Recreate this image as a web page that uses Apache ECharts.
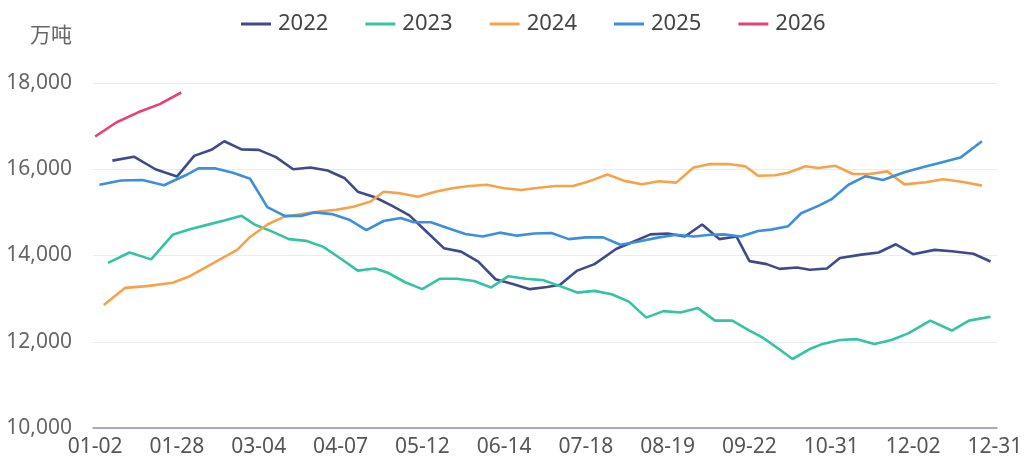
<!DOCTYPE html>
<html>
<head>
<meta charset="utf-8">
<script src="https://cdn.jsdelivr.net/npm/echarts@6/dist/echarts.min.js"></script>
<style>html,body{margin:0;padding:0;background:#fff}#c{width:1033px;height:470px}</style>
</head>
<body>
<div id="c"></div>
<script>
// x-axis tick labels (shown every STEP categories)
const tickLabels = ['01-02','01-28','03-04','04-07','05-12','06-14','07-18','08-19','09-22','10-31','12-02','12-31'];
const STEP = 19;
const years = ['2022','2023','2024','2025','2026'];
// first weekly observation date of each year
const firstDates = ['2022-01-07','2023-01-06','2024-01-05','2025-01-03','2026-01-02'];
// weekly values, 万吨
const v2022 = [16200,16290,16000,15830,16310,16450,16650,16460,16450,16280,16000,16040,15970,15790,
  15480,15350,15150,14930,14550,14170,14090,13860,13450,13340,13220,13270,13320,13650,13800,
  14150,14320,14490,14510,14440,14720,14380,14440,13870,13800,13690,13720,13670,13700,13940,
  14020,14070,14260,14030,14130,14100,14040,13860];
const v2023 = [13830,14070,13910,14480,14610,14710,14810,14920,14720,14560,
  14380,14340,14200,13930,13650,13700,13600,13380,13220,13460,
  13460,13410,13260,13520,13460,13430,13290,13140,13180,13100,
  12930,12560,12710,12680,12780,12490,12490,12260,12100,11820,
  11600,11830,11950,12040,12060,11950,12040,12200,12490,12260,
  12490,12580];
const v2024 = [12850,13250,13290,13370,13520,13740,13910,14130,14430,14720,
  14900,14960,15020,15060,15130,15250,15480,15440,15360,15480,
  15560,15610,15640,15560,15520,15570,15610,15610,15730,15880,
  15730,15650,15720,15690,16040,16120,16120,16070,15850,15860,
  15920,16070,16030,16080,15890,15890,15950,15650,15700,15770,
  15700,15620];
const v2025 = [15640,15740,15750,15630,15860,16020,16020,15920,15780,15120,
  14920,14920,15000,14960,14830,14590,14800,14870,14770,14770,
  14630,14500,14440,14530,14460,14510,14520,14380,14420,14420,
  14250,14320,14420,14480,14440,14480,14490,14440,14570,14600,
  14680,14980,15150,15300,15640,15840,15750,15930,16040,16170,
  16270,16650];
const v2026 = [16760,17090,17320,17510,17780];
const values = [v2022, v2023, v2024, v2025, v2026];
const colors = ['#3f4a8a','#34c3a5','#f7a24b','#3d8fdc','#e2417c'];

// ---- build category list from tick labels ----
function doyOf(md){ const [m,d] = md.split('-').map(Number); return Math.round((Date.UTC(2001,m-1,d) - Date.UTC(2001,0,0))/86400000); }
function mdOf(doy){ const dt = new Date(Date.UTC(2001,0,0) + doy*86400000); return String(dt.getUTCMonth()+1).padStart(2,'0')+'-'+String(dt.getUTCDate()).padStart(2,'0'); }
const tickDoy = tickLabels.map(doyOf);
const categories = [];
for (let j = 0; j < tickLabels.length - 1; j++) {
  for (let s = 0; s < STEP; s++) {
    categories.push(s === 0 ? tickLabels[j] : mdOf(Math.round(tickDoy[j] + (tickDoy[j+1]-tickDoy[j]) * s / STEP)));
  }
}
categories.push(tickLabels[tickLabels.length-1]);
function catIndex(md){
  const d = doyOf(md);
  for (let j = 0; j < tickDoy.length - 1; j++) {
    if (d <= tickDoy[j+1]) return Math.round(STEP*j + STEP*(Math.max(d,tickDoy[j]) - tickDoy[j])/(tickDoy[j+1]-tickDoy[j]));
  }
  return categories.length - 1;
}
function weeklyData(first, vals){
  const [y,m,d] = first.split('-').map(Number);
  return vals.map((v,i) => {
    const dt = new Date(Date.UTC(y, m-1, d + 7*i));
    const md = String(dt.getUTCMonth()+1).padStart(2,'0')+'-'+String(dt.getUTCDate()).padStart(2,'0');
    return [catIndex(md), v];
  });
}

const FONT = '"Noto Sans", "Noto Sans CJK SC", sans-serif';
const chart = echarts.init(document.getElementById('c'));
chart.setOption({
  animation: false,
  color: colors,
  textStyle: { fontFamily: FONT },
  legend: {
    top: 8, left: 236, itemWidth: 30, itemHeight: 3, itemGap: 37, icon: 'rect',
    textStyle: { fontSize: 22, color: '#444', fontFamily: FONT, padding: [0, 0, 0, 2] },
    data: years
  },
  grid: { left: 93, right: 36, top: 83, bottom: 42 },
  xAxis: {
    type: 'category', data: categories, boundaryGap: true,
    axisLine: { lineStyle: { color: '#8a93b0', width: 1.5 } },
    axisTick: { show: false },
    axisLabel: { interval: STEP - 1, fontSize: 21, color: '#555', margin: 9, fontFamily: FONT },
    splitLine: { show: false }
  },
  yAxis: {
    type: 'value', min: 10000, max: 18000, interval: 2000,
    name: '万吨', nameLocation: 'end', nameGap: 36,
    nameTextStyle: { fontSize: 21, color: '#666', align: 'right', padding: [0, 21, 0, 0], fontFamily: FONT },
    axisLine: { show: false }, axisTick: { show: false },
    axisLabel: { fontSize: 21, color: '#666', margin: 21, fontFamily: FONT, formatter: v => v.toLocaleString('en-US') },
    splitLine: { lineStyle: { color: '#e9ebf5', width: 1 } }
  },
  series: years.map((y, k) => ({
    name: y, type: 'line', symbol: 'none', showSymbol: false,
    lineStyle: { width: 2.6, color: colors[k] },
    itemStyle: { color: colors[k] },
    data: weeklyData(firstDates[k], values[k])
  }))
});
</script>
</body>
</html>
